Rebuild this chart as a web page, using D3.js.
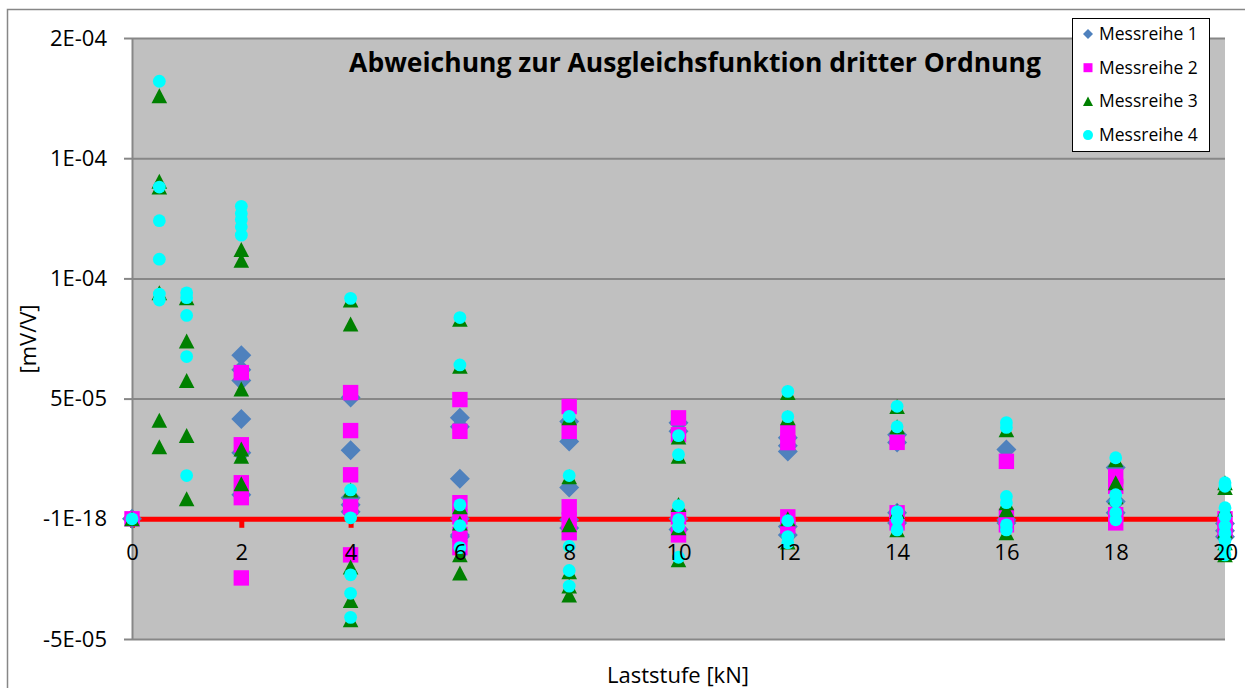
<!DOCTYPE html>
<html>
<head>
<meta charset="utf-8">
<script src="https://cdn.jsdelivr.net/npm/d3@7"></script>
<style>
  body { margin: 0; background: #fff; }
  text { font-family: "Open Sans", sans-serif; }
</style>
</head>
<body>
<div id="d3-container"></div>
<script>
// Laststufen (kN)
const laststufen = [0, 0.5, 1, 2, 4, 6, 8, 10, 12, 14, 16, 18, 20];

// Abweichungen je Laststufe, in 1E-06 mV/V
const messreihe1 = [
  [0], [], [],
  [68, 62, 57.5, 41.5, 27.5, 10],
  [50.5, 28.5, 8.8, 5.8, 2.9],
  [42, 38.3, 16.7, 0, -6.7, -7.5],
  [40.5, 32.2, 13, -0.4, -3.8],
  [40, 36.4, 0, -4.5],
  [33.7, 30.4, 28, -3.2, -6.7],
  [35, 31.7, 2.5, -1.7],
  [28.8, -0.4, -1.7],
  [21.3, 7.2, 2.5],
  [-2, -5, -7.5]
];
const messreihe2 = [
  [0], [], [],
  [60.8, 30.8, 15, 8.8, -24.6],
  [52.5, 36.7, 18.3, 5, -15],
  [49.6, 36.4, 6.7, 0.8, -6.5, -12],
  [46.7, 36.4, 5, -0.5, -5.8],
  [42, 35, 0.8, -6.7],
  [36, 31.7, 0.8, -3],
  [31.8, 2.5, -1.7],
  [23.9, 1, -2.5],
  [17.6, 13.5, 1.7, -1.7],
  [0, -4.6]
];
const messreihe3 = [
  [0],
  [176, 140.4, 138, 94, 41, 30],
  [92, 74, 57.5, 34.6, 8.3],
  [112, 107.5, 54, 29, 26, 14.6],
  [91, 81, 12, -20, -34, -42],
  [83, 63.5, 5, -1.7, -15, -22.5],
  [42, 17.5, -2.5, -22, -28, -31.7],
  [34, 26, 6, -3.75, -17],
  [52.5, 42, 0, -9.6],
  [46.7, 38.3, 3, -4.6],
  [37, 6.7, 3.75, -5.8],
  [24.6, 15, 9.2],
  [15, 13, 4, -5, -10, -15]
];
const messreihe4 = [
  [0],
  [182, 138, 124, 108, 93.5, 91],
  [94, 92, 84.6, 67.5, 18],
  [130, 127, 124.5, 121.5, 118],
  [91.7, 12, 0.4, -23.3, -31, -41],
  [83.7, 64, 5.8, -2.8, -12],
  [42.6, 18, -11.5, -21.5, -28],
  [34.6, 26.7, 5.5, -0.4, -3.2, -16],
  [53, 42.5, -0.8, -7.4, -10],
  [46.8, 38.3, 3, -0.4, -4.6],
  [40, 38, 9.3, 6.7, -2.5, -4.6],
  [25.4, 10, 7.2, 2.5, -0.4],
  [15, 13.5, 4.6, 1, -3, -6, -9, -12, -15]
];

const reihenNamen = ["Messreihe 1", "Messreihe 2", "Messreihe 3", "Messreihe 4"];
const reihenFarben = ["#4F81BD", "#FF00FF", "#008000", "#00FFFF"];

const yTicks = [-50, 0, 50, 100, 150, 200];
const yTickLabels = ["-5E-05", "-1E-18", "5E-05", "1E-04", "1E-04", "2E-04"];
const xTicks = [0, 2, 4, 6, 8, 10, 12, 14, 16, 18, 20];

const titel = "Abweichung zur Ausgleichsfunktion dritter Ordnung";

loadVisualization = () => {
  const width = 1245;
  const height = 688;
  const plot = { left: 132, right: 1225, top: 38, bottom: 639 };

  const svg = d3.select("#d3-container")
    .append("svg")
    .attr("width", width)
    .attr("height", height);

  // chart border
  svg.append("rect")
    .attr("x", 7.5).attr("y", 9.5)
    .attr("width", 1260).attr("height", 700)
    .attr("fill", "#fff")
    .attr("stroke", "#878787")
    .attr("stroke-width", 1.5);

  const x = d3.scaleLinear().domain([0, 20]).range([plot.left, plot.right]);
  const y = d3.scaleLinear().domain([-50, 200]).range([plot.bottom, plot.top]);

  svg.append("rect")
    .attr("x", plot.left).attr("y", plot.top)
    .attr("width", plot.right - plot.left)
    .attr("height", plot.bottom - plot.top)
    .attr("fill", "#C0C0C0");

  // gridlines
  svg.append("g")
    .attr("transform", `translate(${plot.left},0)`)
    .call(d3.axisLeft(y).tickValues(yTicks).tickFormat("")
      .tickSize(-(plot.right - plot.left)).tickSizeOuter(0))
    .call(g => g.select(".domain").remove())
    .call(g => g.selectAll("line").attr("stroke", "#878787").attr("stroke-width", 2));

  // y axis
  svg.append("g")
    .attr("transform", `translate(${plot.left},0)`)
    .call(d3.axisLeft(y).tickValues(yTicks)
      .tickFormat((d, i) => yTickLabels[i]).tickSize(8).tickSizeOuter(0).tickPadding(17))
    .call(g => g.select(".domain").attr("stroke", "#878787").attr("stroke-width", 2))
    .call(g => g.selectAll("line").attr("stroke", "#878787").attr("stroke-width", 2))
    .call(g => g.selectAll("text").attr("font-size", "22px").attr("fill", "#000")
      .attr("font-family", "'Open Sans', sans-serif"));

  // x axis line (red) at zero
  svg.append("g")
    .attr("transform", `translate(0,${y(0)})`)
    .call(d3.axisBottom(x).tickValues(xTicks).tickFormat("").tickSize(9).tickSizeOuter(0))
    .call(g => g.select(".domain").attr("stroke", "#FF0000").attr("stroke-width", 5))
    .call(g => g.selectAll("line").attr("stroke", "#FF0000").attr("stroke-width", 5));

  const markers = [
    { path: "M0,-10L10,0L0,10L-10,0Z", legend: "M0,-5L5,0L0,5L-5,0Z" },
    { path: "M-7.7,-7.7H7.7V7.7H-7.7Z", legend: "M-4.5,-4.5H4.5V4.5H-4.5Z" },
    { path: "M0,-7.5L7.8,7.5L-7.8,7.5Z", legend: "M0,-5L5,4.5L-5,4.5Z" },
    { path: d3.symbol(d3.symbolCircle, Math.PI * 6.4 * 6.4)(), legend: d3.symbol(d3.symbolCircle, Math.PI * 5 * 5)() }
  ];

  const reihen = [messreihe1, messreihe2, messreihe3, messreihe4];

  reihen.forEach((reihe, s) => {
    const punkte = reihe.flatMap((werte, i) => werte.map(v => ({ x: laststufen[i], y: v })));
    svg.append("g")
      .attr("fill", reihenFarben[s])
      .selectAll("path")
      .data(punkte)
      .join("path")
        .attr("d", markers[s].path)
        .attr("transform", d => `translate(${x(d.x)},${y(d.y)})`);
  });

  // x tick labels on top of markers
  svg.append("g")
    .attr("transform", `translate(0,${y(0)})`)
    .call(d3.axisBottom(x).tickValues(xTicks).tickSize(0).tickPadding(26))
    .call(g => g.select(".domain").remove())
    .call(g => g.selectAll("text").attr("font-size", "22px").attr("fill", "#000")
      .attr("font-family", "'Open Sans', sans-serif"));

  // title
  svg.append("text")
    .attr("x", 695).attr("y", 72)
    .attr("text-anchor", "middle")
    .attr("font-size", "26.5px")
    .attr("font-weight", "bold")
    .text(titel);

  // axis titles
  svg.append("text")
    .attr("transform", "translate(36,339) rotate(-90)")
    .attr("text-anchor", "middle")
    .attr("font-size", "22px")
    .text("[mV/V]");

  svg.append("text")
    .attr("x", 678).attr("y", 683)
    .attr("text-anchor", "middle")
    .attr("font-size", "22px")
    .text("Laststufe [kN]");

  // legend
  const legend = svg.append("g");
  legend.append("rect")
    .attr("x", 1072.5).attr("y", 18.5)
    .attr("width", 137).attr("height", 133)
    .attr("fill", "#fff")
    .attr("stroke", "#000");

  const eintrag = legend.selectAll("g.eintrag")
    .data(reihenNamen)
    .join("g")
      .attr("class", "eintrag")
      .attr("transform", (d, i) => `translate(1088,${34 + i * 33.7})`);

  eintrag.append("path")
    .attr("d", (d, i) => markers[i].legend)
    .attr("fill", (d, i) => reihenFarben[i]);

  eintrag.append("text")
    .attr("x", 11).attr("y", 6)
    .attr("font-size", "17.5px")
    .text(d => d);
};

window.onload = () => {
  loadVisualization();
};
</script>
</body>
</html>
